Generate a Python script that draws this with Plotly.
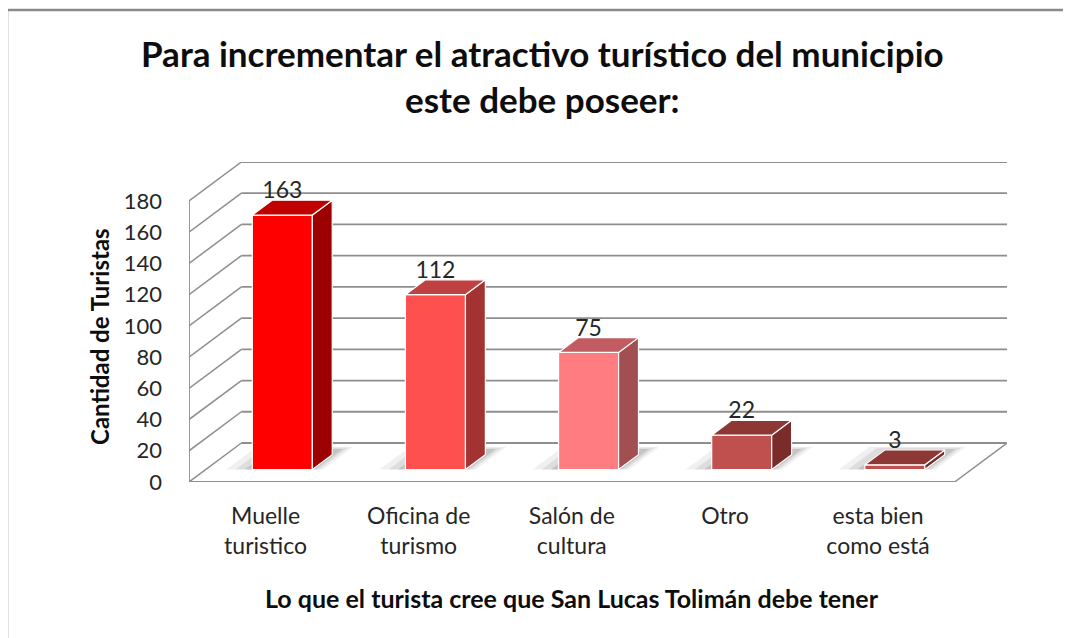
import plotly.graph_objects as go

# ---------------- data ----------------
categories = ["Muelle<br>turistico", "Oficina de<br>turismo", "Salón de<br>cultura", "Otro", "esta bien<br>como está"]
values = [163, 112, 75, 22, 3]
front_colors = ["#FF0000", "#FF5050", "#FF7C80", "#C0504D", "#C0504D"]
top_colors = ["#C00000", "#C04141", "#C05C62", "#8E3836", "#8E3836"]
side_colors = ["#9C0000", "#A33232", "#A24F52", "#7A2C2A", "#7A2C2A"]
y_ticks = [0, 20, 40, 60, 80, 100, 120, 140, 160, 180]
title_text = "Para incrementar el atractivo turístico del municipio<br>este debe poseer:"
y_title = "Cantidad de Turistas"
x_title = "Lo que el turista cree que San Lucas Tolimán debe tener"

# ---------------- geometry ----------------
W, H = 1071, 638
OFF = 8                      # page offset of the figure in the browser
PL, PT = 189, 162            # plot area left/top on screen
PW, PH = 818, 320
ML, MT = PL - OFF, PT - OFF
MR = W - ML - PW
MB = H - MT - PH
N = len(categories)
YMAX = y_ticks[-1]
DX = 0.342      # depth offset in category units
DY = 25.0       # depth offset in value units
F, B = 0.32, 0.70   # bar front / back depth fraction
HW = 0.196      # half width of bar

def px(X):
    return (X - PL) / PW

def py(Y):
    return (PT + PH - Y) / PH

GRID = "#8E8E8E"
fig = go.Figure()

shapes = []
# back wall gridlines and left wall diagonals
for t in y_ticks:
    shapes.append(dict(type="line", xref="x", yref="y", x0=DX, y0=t + DY, x1=N + DX, y1=t + DY,
                       line=dict(color=GRID, width=1.8), layer="below"))
    shapes.append(dict(type="line", xref="x", yref="y", x0=0, y0=t, x1=DX, y1=t + DY,
                       line=dict(color=GRID, width=1.5), layer="below"))
# front vertical axis
shapes.append(dict(type="line", xref="x", yref="y", x0=0, y0=0, x1=0, y1=YMAX,
                   line=dict(color=GRID, width=1.8), layer="below"))
# floor
shapes.append(dict(type="line", xref="x", yref="y", x0=0, y0=0, x1=N, y1=0,
                   line=dict(color=GRID, width=2), layer="below"))
shapes.append(dict(type="line", xref="x", yref="y", x0=N, y0=0, x1=N + DX, y1=DY,
                   line=dict(color=GRID, width=1.5), layer="below"))

# floor shadows (soft, layered)
for i, v in enumerate(values):
    xl = i + 0.5 - HW + F * DX
    xr = i + 0.5 + HW + F * DX
    for ex, op in [(0.17, 0.06), (0.11, 0.08), (0.05, 0.11)]:
        d1 = min(B + 0.12 + ex * 0.5, 0.98)
        path = "M {} {} L {} {} L {} {} L {} {} Z".format(
            xl - ex, F * DY,
            xr + ex * 0.4, F * DY,
            xr + ex * 0.4 + (d1 - F) * DX, d1 * DY,
            xl - ex + (d1 - F) * DX, d1 * DY)
        shapes.append(dict(type="path", xref="x", yref="y", path=path,
                           fillcolor="rgba(0,0,0,{})".format(op), line=dict(width=0), layer="below"))

# chart border (top and left)
shapes.append(dict(type="line", xref="paper", yref="paper", x0=px(7), y0=py(10), x1=px(W + 20), y1=py(10),
                   line=dict(color="#8A8A8A", width=2.5)))
shapes.append(dict(type="line", xref="paper", yref="paper", x0=px(7), y0=py(10), x1=px(7), y1=py(H + 20),
                   line=dict(color="#8A8A8A", width=2.5)))

# front faces (bars)
fig.add_trace(go.Bar(
    x=[i + 0.5 + F * DX for i in range(N)], y=values, base=F * DY, width=2 * HW,
    marker=dict(color=front_colors, line=dict(color="white", width=1.2)),
    hoverinfo="skip", showlegend=False))

# side and top faces
for i, v in enumerate(values):
    xl = i + 0.5 - HW + F * DX
    xr = i + 0.5 + HW + F * DX
    ddx = (B - F) * DX
    y0 = F * DY
    y1 = F * DY + v
    y0b = B * DY
    y1b = B * DY + v
    fig.add_trace(go.Scatter(
        x=[xr, xr, xr + ddx, xr + ddx, xr], y=[y0, y1, y1b, y0b, y0],
        fill="toself", fillcolor=side_colors[i], mode="lines",
        line=dict(color="white", width=1.2), hoverinfo="skip", showlegend=False))
    fig.add_trace(go.Scatter(
        x=[xl, xr, xr + ddx, xl + ddx, xl], y=[y1, y1, y1b, y1b, y1],
        fill="toself", fillcolor=top_colors[i], mode="lines",
        line=dict(color="white", width=1.2), hoverinfo="skip", showlegend=False))

# data labels
fig.add_trace(go.Scatter(
    x=[i + 0.5 + F * DX for i in range(N)], y=[v + F * DY + 14.5 for v in values],
    mode="text", text=[str(v) for v in values], textposition="middle center",
    textfont=dict(family="Lato", size=23, color="#262626"),
    cliponaxis=False, hoverinfo="skip", showlegend=False))

annotations = [
    dict(text="<b>" + title_text + "</b>", xref="paper", yref="paper", x=px(542), y=py(76),
         xanchor="center", yanchor="middle", showarrow=False,
         font=dict(family="Lato", size=35, color="#0D0D0D")),
    dict(text="<b>" + y_title + "</b>", xref="paper", yref="paper", x=px(99), y=py(337),
         xanchor="center", yanchor="middle", showarrow=False, textangle=-90,
         font=dict(family="Lato", size=24, color="#0D0D0D")),
    dict(text="<b>" + x_title + "</b>", xref="paper", yref="paper", x=px(572), y=py(598),
         xanchor="center", yanchor="middle", showarrow=False,
         font=dict(family="Lato", size=25, color="#0D0D0D")),
]

fig.update_layout(
    width=W, height=H,
    margin=dict(l=ML, r=MR, t=MT, b=MB, autoexpand=False),
    paper_bgcolor="white", plot_bgcolor="rgba(0,0,0,0)",
    shapes=shapes, annotations=annotations, showlegend=False,
    xaxis=dict(range=[0, N + DX], tickvals=[i + 0.5 for i in range(N)], ticktext=categories,
               showgrid=False, zeroline=False, showline=False, ticks="",
               ticklabelstandoff=18,
               tickfont=dict(family="Lato", size=23, color="#262626"), fixedrange=True),
    yaxis=dict(range=[0, YMAX + DY], tickvals=y_ticks, showgrid=False, zeroline=False,
               showline=False, ticks="", ticklabelstandoff=26,
               tickfont=dict(family="Lato", size=22, color="#262626"), fixedrange=True),
)

fig.write_html("out.html", config={"displayModeBar": False})
